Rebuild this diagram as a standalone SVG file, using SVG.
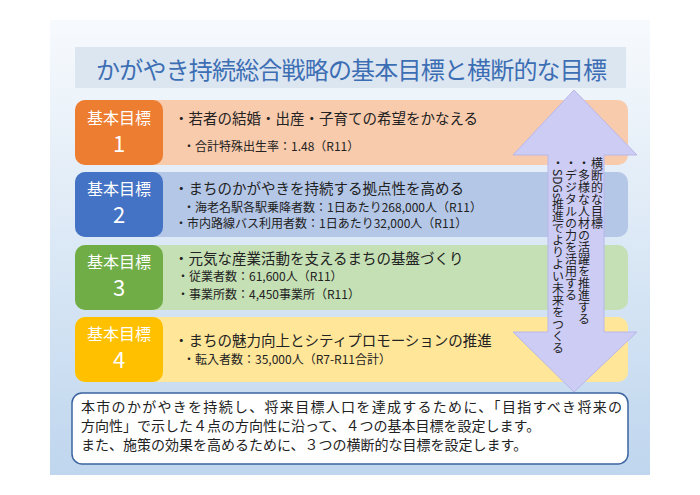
<svg xmlns="http://www.w3.org/2000/svg" width="700" height="495" viewBox="0 0 700 495">
<defs>
<linearGradient id="bg" x1="0" y1="0" x2="0" y2="1"><stop offset="0" stop-color="#F7FAFD"/><stop offset="1" stop-color="#BFD6EE"/></linearGradient>
<style>
text{font-family:"Noto Sans CJK JP","Liberation Sans",sans-serif;}
.lab{fill:#fff;text-anchor:middle;}
.m{font-size:14.5px;fill:#222;}
.s{font-size:12px;fill:#222;}
.v{font-size:12px;fill:#222;writing-mode:vertical-rl;}
.b{font-size:14px;fill:#222;}
</style>
</defs>
<rect width="700" height="495" fill="#fff"/>
<rect x="50" y="20" width="600" height="455" fill="url(#bg)"/>
<g id="title"><rect x="75" y="47" width="551" height="41" fill="#DCE6F1"/>
<text x="96" y="79" font-size="24" fill="#3C6EB4" textLength="511">かがやき持続総合戦略の基本目標と横断的な目標</text></g>
<g id="goal1"><rect x="75" y="100" width="553" height="65" rx="10" fill="#F8CBAD"/><rect x="75" y="100" width="88" height="65" rx="10" fill="#ED7D31"/>
<text class="lab" x="119" y="124" font-size="16">基本目標</text><text class="lab" x="119" y="152" font-size="22">1</text>
<text class="m" x="174" y="124">・若者の結婚・出産・子育ての希望をかなえる</text>
<text class="s" x="183" y="151" font-size="13">・合計特殊出生率：1.48（R11）</text></g>
<g id="goal2"><rect x="75" y="172" width="553" height="65" rx="10" fill="#B4C7E7"/><rect x="75" y="172" width="88" height="65" rx="10" fill="#4472C4"/>
<text class="lab" x="119" y="195" font-size="16">基本目標</text><text class="lab" x="119" y="223" font-size="22">2</text>
<text class="m" x="174" y="194" font-size="15">・まちのかがやきを持続する拠点性を高める</text>
<text class="s" x="183" y="212">・海老名駅各駅乗降者数：1日あたり268,000人（R11）</text>
<text class="s" x="175" y="228">・市内路線バス利用者数：1日あたり32,000人（R11）</text></g>
<g id="goal3"><rect x="75" y="245" width="553" height="65" rx="10" fill="#C5E0B4"/><rect x="75" y="245" width="88" height="65" rx="10" fill="#70AD47"/>
<text class="lab" x="119" y="268" font-size="16">基本目標</text><text class="lab" x="119" y="296" font-size="22">3</text>
<text class="m" x="174" y="264">・元気な産業活動を支えるまちの基盤づくり</text>
<text class="s" x="177" y="281">・従業者数：61,600人（R11）</text>
<text class="s" x="177" y="299">・事業所数：4,450事業所（R11）</text></g>
<g id="goal4"><rect x="75" y="317" width="553" height="65" rx="10" fill="#FFE699"/><rect x="75" y="317" width="88" height="65" rx="10" fill="#FFC000"/>
<text class="lab" x="119" y="340" font-size="16">基本目標</text><text class="lab" x="119" y="368" font-size="22">4</text>
<text class="m" x="174" y="346">・まちの魅力向上とシティプロモーションの推進</text>
<text class="s" x="183" y="364" font-size="13">・転入者数：35,000人（R7-R11合計）</text></g>
<g id="arrow"><polygon points="574,90 637,155 604,155 604,332 637,332 574,392 513,332 548,332 548,155 513,155" fill="#CCCCF5" stroke="#B8B8E8" stroke-width="1"/>
<text class="v" x="597" y="157">横断的な目標</text>
<text class="v" x="584" y="157">・多様な人材の活躍を推進する</text>
<text class="v" x="571" y="157">・デジタルの力を活用する</text>
<text class="v" x="558" y="157">・SDGs推進でよりよい未来をつくる</text></g>
<g id="summary"><rect x="72" y="393" width="556" height="71" rx="10" fill="#fff" stroke="#3C64A0" stroke-width="1.5"/>
<text class="b" x="81" y="412" textLength="541">本市のかがやきを持続し、将来目標人口を達成するために、「目指すべき将来の</text>
<text class="b" x="81" y="431">方向性」で示した４点の方向性に沿って、４つの基本目標を設定します。</text>
<text class="b" x="81" y="450">また、施策の効果を高めるために、３つの横断的な目標を設定します。</text></g>
</svg>
